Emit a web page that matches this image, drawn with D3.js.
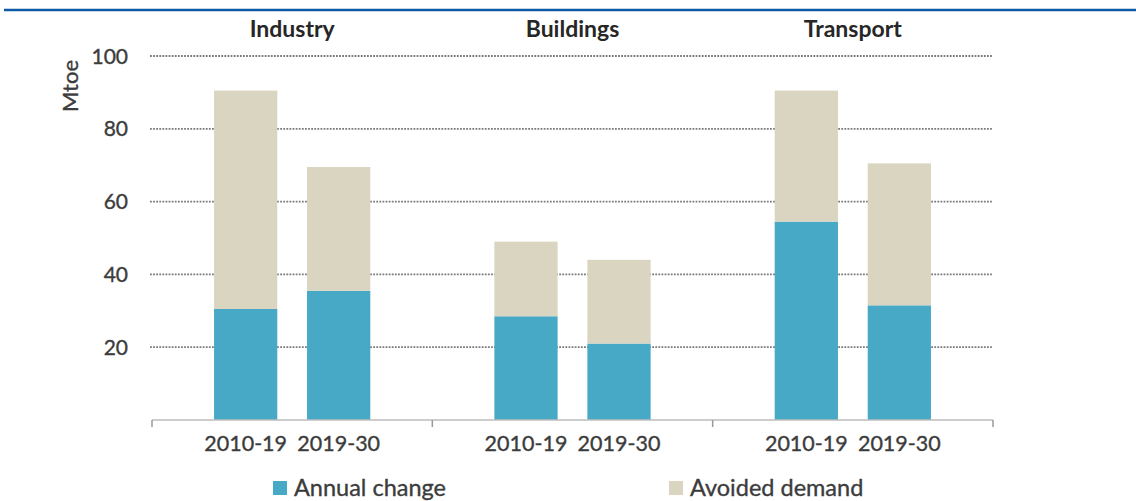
<!DOCTYPE html>
<html>
<head>
<meta charset="utf-8">
<script src="https://cdn.jsdelivr.net/npm/d3@7"></script>
<style>
  html, body { margin: 0; padding: 0; background: #fff; }
  svg { display: block; }
  text { font-family: Lato, "Open Sans", sans-serif; }
  .lbl { stroke: currentColor; stroke-width: 0.35px; }
</style>
</head>
<body>
<svg id="chart" width="1136" height="501"></svg>
<script>
// Sectors and the two periods compared within each
const sectors = ["Industry", "Buildings", "Transport"];
const periods = ["2010-19", "2019-30"];

// Mtoe per sector, in period order
const annualChange = [[30.5, 35.5], [28.5, 21], [54.5, 31.5]];
const avoidedDemand = [[60, 34], [20.5, 23], [36, 39]];

const yTicks = [20, 40, 60, 80, 100];
const seriesNames = ["Annual change", "Avoided demand"];
const seriesColors = ["#47a9c5", "#d9d5c1"];

const svg = d3.select("#chart");
const textColor = "#3c3c3c";

// Top rule
svg.append("line")
  .attr("x1", 4).attr("x2", 1136)
  .attr("y1", 10).attr("y2", 10)
  .attr("stroke", "#0d5aa7").attr("stroke-width", 2.5);

const plotLeft = 152, plotRight = 993;
const y = d3.scaleLinear().domain([0, 100]).range([420, 56]);

const x0 = d3.scaleBand().domain(sectors).range([plotLeft, plotRight]).padding(0);
const x1 = d3.scaleBand().domain(periods).range([0, x0.bandwidth()])
  .paddingInner(0.32).paddingOuter(0.667);

// Dotted gridlines
svg.append("g").selectAll("line").data(yTicks).join("line")
  .attr("x1", plotLeft - 2).attr("x2", plotRight - 1)
  .attr("y1", d => y(d)).attr("y2", d => y(d))
  .attr("stroke", "#7a7a7a").attr("stroke-width", 1.8)
  .attr("stroke-dasharray", "1.8,1.3");

// Y tick labels
svg.append("g").selectAll("text").data(yTicks).join("text")
  .attr("class", "lbl")
  .attr("x", 128).attr("y", d => y(d))
  .attr("dy", "0.36em")
  .attr("text-anchor", "end")
  .attr("font-size", 21)
  .style("color", textColor)
  .attr("fill", textColor)
  .text(d => d);

// Y axis title
svg.append("text")
  .attr("class", "lbl")
  .attr("transform", "translate(78,86) rotate(-90)")
  .attr("text-anchor", "middle")
  .attr("font-size", 22)
  .style("color", textColor)
  .attr("fill", textColor)
  .text("Mtoe");

// Stacked bars
const rows = [];
sectors.forEach((s, i) => {
  periods.forEach((p, j) => {
    rows.push({ sector: s, period: p, a: annualChange[i][j], b: avoidedDemand[i][j] });
  });
});
const stacked = d3.stack().keys(["a", "b"])(rows);

svg.append("g").selectAll("g").data(stacked).join("g")
  .attr("fill", (d, i) => seriesColors[i])
  .selectAll("rect").data(d => d).join("rect")
  .attr("x", d => x0(d.data.sector) + x1(d.data.period))
  .attr("width", x1.bandwidth())
  .attr("y", d => y(d[1]))
  .attr("height", d => y(d[0]) - y(d[1]));

// Baseline axis with group separators
const axisY = y(0);
svg.append("line")
  .attr("x1", plotLeft).attr("x2", plotRight)
  .attr("y1", axisY).attr("y2", axisY)
  .attr("stroke", "#bdbdbd").attr("stroke-width", 1.5);
const seps = sectors.map(s => x0(s)).concat([x0(sectors[sectors.length - 1]) + x0.bandwidth()]);
svg.append("g").selectAll("line").data(seps).join("line")
  .attr("x1", d => d).attr("x2", d => d)
  .attr("y1", axisY).attr("y2", axisY + 7)
  .attr("stroke", "#9a9a9a").attr("stroke-width", 1.5);

// Period labels
const labelRows = [];
sectors.forEach(s => periods.forEach(p => labelRows.push({ s, p })));
svg.append("g").selectAll("text").data(labelRows).join("text")
  .attr("class", "lbl")
  .attr("x", d => x0(d.s) + x1(d.p) + x1.bandwidth() / 2)
  .attr("y", 451)
  .attr("text-anchor", "middle")
  .attr("font-size", 21.5)
  .style("color", textColor)
  .attr("fill", textColor)
  .text(d => d.p);

// Sector titles
svg.append("g").selectAll("text").data(sectors).join("text")
  .attr("x", d => x0(d) + x0.bandwidth() / 2)
  .attr("y", 37)
  .attr("text-anchor", "middle")
  .attr("font-size", 23)
  .attr("font-weight", "bold")
  .attr("fill", "#262626")
  .text(d => d);

// Legend
const legendX = [273, 669];
const legend = svg.append("g").selectAll("g").data(seriesNames).join("g")
  .attr("transform", (d, i) => `translate(${legendX[i]},481)`);
legend.append("rect")
  .attr("width", 14).attr("height", 14)
  .attr("fill", (d, i) => seriesColors[i]);
legend.append("text")
  .attr("class", "lbl")
  .attr("x", 21).attr("y", 15)
  .attr("font-size", 23.5)
  .style("color", textColor)
  .attr("fill", textColor)
  .text(d => d);
</script>
</body>
</html>
